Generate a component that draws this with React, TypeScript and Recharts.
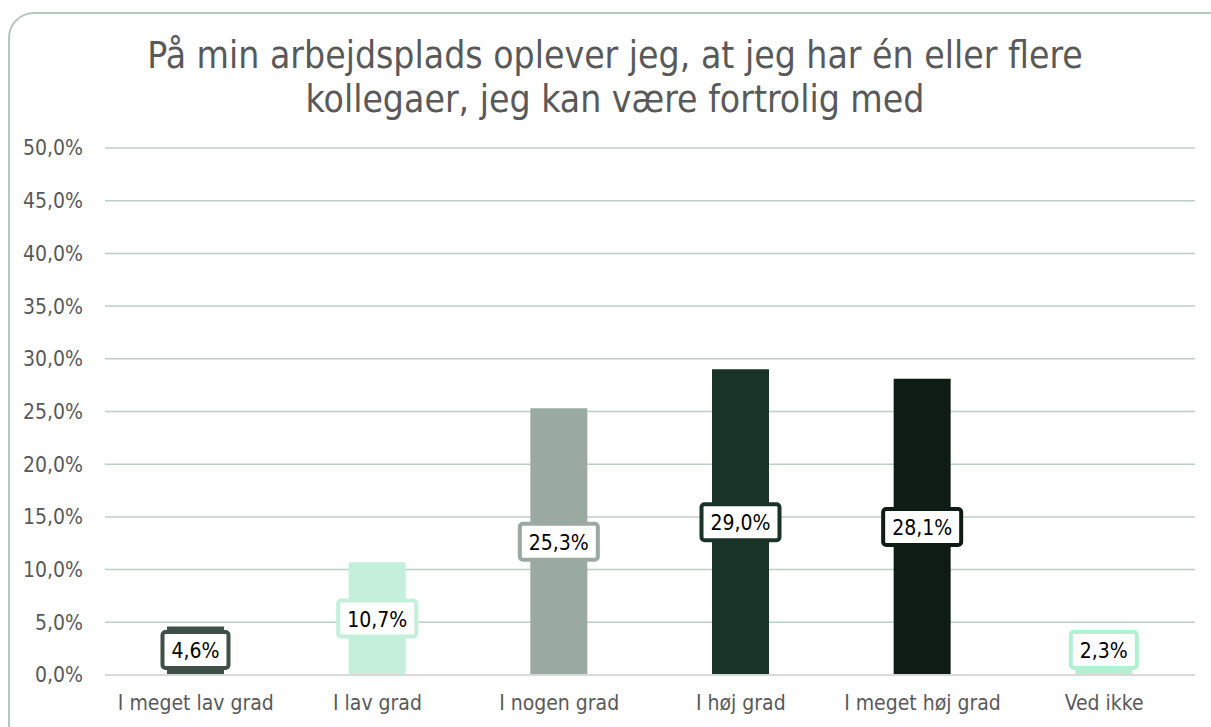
import React from "react";
import { BarChart, Bar, XAxis, YAxis, CartesianGrid, Cell, LabelList } from "recharts";

const categories = ["I meget lav grad", "I lav grad", "I nogen grad", "I høj grad", "I meget høj grad", "Ved ikke"];
const values = [4.6, 10.7, 25.3, 29.0, 28.1, 2.3];
const barColors = ["#3f5046", "#c4f0db", "#9aaaa2", "#193326", "#0e1c14", "#b2f0d2"];
const yTicks = [0, 5, 10, 15, 20, 25, 30, 35, 40, 45, 50];
const titleLines = ["På min arbejdsplads oplever jeg, at jeg har én eller flere", "kollegaer, jeg kan være fortrolig med"];

const data = categories.map((c, i) => ({ name: c, value: values[i], color: barColors[i] }));

const FONT = "'DejaVu Sans Condensed', 'DejaVu Sans', sans-serif";
const fmt = (v: number) => v.toFixed(1).replace(".", ",") + "%";

const BoxLabel = (props: any) => {
  const { x, y, width, height, value, index } = props;
  const txt = fmt(value);
  const cw = (ch: string) => (ch === "," ? 6 : ch === "%" ? 18 : 12);
  const tw = txt.split("").reduce((s: number, ch: string) => s + cw(ch), 0);
  const bw = tw + 18;
  const bh = 36;
  const cx = x + width / 2;
  const bottom = y + height;
  const cy = Math.min(y + height / 2, bottom - 25);
  return (
    <g>
      <rect x={cx - bw / 2} y={cy - bh / 2} width={bw} height={bh} rx={3} ry={3} fill="#ffffff" stroke={barColors[index]} strokeWidth={4} />
      <text x={cx} y={cy + 1} textAnchor="middle" dominantBaseline="central" fontFamily={FONT} fontSize={21} fill="#000000">
        {txt}
      </text>
    </g>
  );
};

export default function App() {
  return (
    <div style={{ position: "fixed", left: 0, top: 0, width: 1211, height: 727, overflow: "hidden", background: "#ffffff" }}>
      <div
        style={{
          position: "absolute",
          left: 8,
          top: 12,
          width: 1240,
          height: 760,
          border: "2px solid #b4c8be",
          borderRadius: 26,
          boxSizing: "border-box",
        }}
      />
      <div
        style={{
          position: "absolute",
          left: 0,
          top: 34,
          width: 1230,
          textAlign: "center",
          fontFamily: FONT,
          fontSize: 37,
          lineHeight: "44px",
          color: "#595959",
        }}
      >
        {titleLines.map((l, i) => (
          <div key={i}>{l}</div>
        ))}
      </div>
      <div style={{ position: "absolute", left: 0, top: 0 }}>
        <BarChart width={1211} height={727} data={data} margin={{ top: 148, right: 16, left: 0, bottom: 22 }} barCategoryGap={0}>
          <CartesianGrid vertical={false} stroke="#bccfc5" strokeWidth={1.5} />
          <YAxis
            width={105}
            domain={[0, 50]}
            ticks={yTicks}
            interval={0}
            axisLine={false}
            tickLine={false}
            tickMargin={16}
            tickFormatter={fmt}
            tick={{ fontFamily: FONT, fontSize: 21, fill: "#595959" }}
          />
          <XAxis
            dataKey="name"
            height={30}
            axisLine={{ stroke: "#d9d9d9", strokeWidth: 2 }}
            tickLine={false}
            tickMargin={14}
            interval={0}
            tick={{ fontFamily: FONT, fontSize: 21, fill: "#595959" }}
          />
          <Bar dataKey="value" barSize={57} isAnimationActive={false}>
            {data.map((d, i) => (
              <Cell key={i} fill={d.color} />
            ))}
            <LabelList dataKey="value" content={<BoxLabel />} />
          </Bar>
        </BarChart>
      </div>
    </div>
  );
}
